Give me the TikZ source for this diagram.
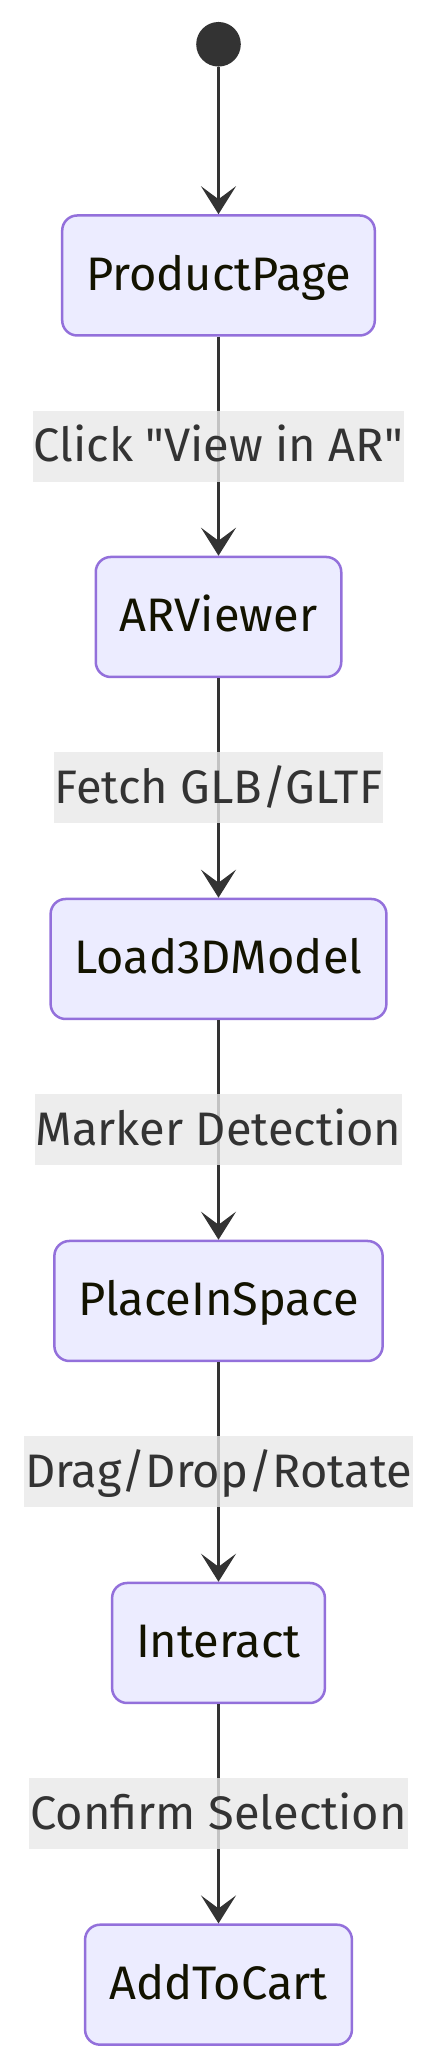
\documentclass[tikz,border=0pt]{standalone}
\usepackage{fontspec}
\setmainfont{Fira Sans}
\usetikzlibrary{arrows.meta}
\definecolor{stateink}{HTML}{131300}
\definecolor{statefill}{HTML}{ECECFF}
\definecolor{stateline}{HTML}{9370DB}
\definecolor{wire}{HTML}{333333}
\definecolor{tagfill}{HTML}{E8E8E8}

\begin{document}
\begin{tikzpicture}[
  x=1pt,y=1pt,
  font=\fontsize{47}{56}\selectfont,
  state/.style={
    rectangle,
    rounded corners=15pt,
    draw=stateline,
    fill=statefill,
    line width=2.5pt,
    text=stateink,
    minimum height=120pt,
    inner xsep=24pt,
    inner ysep=0pt,
    text height=75pt,
    text depth=45pt
  },
  entry/.style={
    circle,
    fill=wire,
    draw=none,
    minimum size=44.6pt,
    inner sep=0pt
  },
  flow/.style={
    wire,
    line width=2.7pt,
    -{Stealth[length=28pt,width=35pt,inset=13pt]}
  },
  tag/.style={
    fill=tagfill,
    fill opacity=.8,
    text opacity=1,
    text=wire,
    inner xsep=1pt,
    inner ysep=0pt,
    text height=51pt,
    text depth=20pt
  }
]
\useasboundingbox (0,0) rectangle (437,2069);

\node[entry] (start) at (218.5,2024.7) {};

\node[state] (product)  at (218.5,1793.5) {ProductPage};
\node[state] (viewer)   at (218.5,1452.0) {ARViewer};
\node[state] (loader)   at (218.5,1110.0) {Load3DModel};
\node[state] (place)    at (218.5,768.0)  {PlaceInSpace};
\node[state] (interact) at (218.5,426.0)  {Interact};
\node[state] (cart)     at (218.5,84.3)   {AddToCart};

\draw[flow] (start.south) -- (product.north);
\draw[flow] (product.south) -- (viewer.north)
  node[midway,tag] (lblclick) {Click \textquotedbl View in AR\textquotedbl};
\draw[flow] (viewer.south) -- (loader.north)
  node[midway,tag] (lblfetch) {Fetch GLB/GLTF};
\draw[flow] (loader.south) -- (place.north)
  node[midway,tag] (lblmarker) {Marker Detection};
\draw[flow] (place.south) -- (interact.north)
  node[midway,tag] (lbldrag) {Drag/Drop/Rotate};
\draw[flow] (interact.south) -- (cart.north)
  node[midway,tag] (lblconfirm) {Confirm Selection};

\end{tikzpicture}
\end{document}
